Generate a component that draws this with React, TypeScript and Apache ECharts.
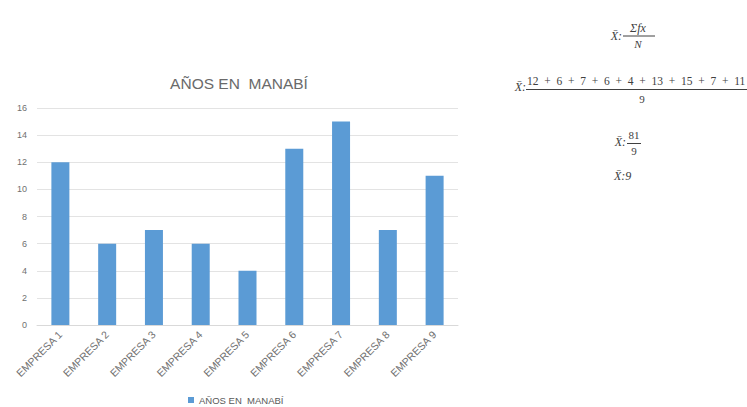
import React, { useEffect, useRef } from "react";
import * as echarts from "echarts";

const categories = [
  "EMPRESA 1",
  "EMPRESA 2",
  "EMPRESA 3",
  "EMPRESA 4",
  "EMPRESA 5",
  "EMPRESA 6",
  "EMPRESA 7",
  "EMPRESA 8",
  "EMPRESA 9",
];
const values = [12, 6, 7, 6, 4, 13, 15, 7, 11];
const seriesName = "AÑOS EN  MANABÍ";
const titleText = "AÑOS EN  MANABÍ";
const yMin = 0;
const yMax = 16;
const yInterval = 2;

const XBAR = "X\u0304:";
const NB = "\u00A0";

export default function App() {
  const ref = useRef<HTMLDivElement>(null);

  useEffect(() => {
    if (!ref.current) return;
    const chart = echarts.init(ref.current, null, { renderer: "svg" });
    const sum = values.reduce((a, b) => a + b, 0);
    const n = values.length;
    const mean = sum / n;
    const numer = values.join(NB + NB + "+" + NB + NB);
    const fText = "#404040";
    const fFont = "Liberation Serif";

    chart.setOption({
      animation: false,
      backgroundColor: "#ffffff",
      textStyle: { fontFamily: "Liberation Sans" },
      grid: { left: 37, right: 289, top: 108, height: 217 },
      legend: {
        data: [seriesName],
        left: 188,
        top: 395,
        padding: 0,
        icon: "rect",
        itemWidth: 6,
        itemHeight: 6,
        itemGap: 5,
        textStyle: { fontSize: 9.5, color: "#595959", fontFamily: "Liberation Sans" },
      },
      xAxis: {
        type: "category",
        data: categories,
        axisLine: { show: true, lineStyle: { color: "#d9d9d9", width: 1 } },
        axisTick: { show: false },
        axisLabel: {
          interval: 0,
          rotate: 45,
          fontSize: 10.5,
          color: "#707070",
          margin: 8,
        },
      },
      yAxis: {
        type: "value",
        min: yMin,
        max: yMax,
        interval: yInterval,
        axisLine: { show: false },
        axisTick: { show: false },
        splitLine: { lineStyle: { color: "#e3e3e3", width: 1 } },
        axisLabel: { fontSize: 9, color: "#707070", margin: 10 },
      },
      series: [
        {
          name: seriesName,
          type: "bar",
          data: values,
          barWidth: 18,
          itemStyle: { color: "#5b9bd5" },
        },
      ],
      graphic: [
        {
          type: "text",
          x: 239,
          y: 83,
          style: {
            text: titleText,
            fontSize: 15.5,
            fontFamily: "Liberation Sans",
            fill: "#6a6a6a",
            align: "center",
            verticalAlign: "middle",
          },
        },
        // Formula 1
        {
          type: "text",
          x: 622,
          y: 36,
          style: { text: XBAR, fontSize: 12, fontStyle: "italic", fontFamily: fFont, fill: fText, align: "right", verticalAlign: "middle" },
        },
        {
          type: "text",
          x: 638,
          y: 28,
          style: { text: "\u03A3" + "fx", fontSize: 12, fontStyle: "italic", fontFamily: fFont, fill: fText, align: "center", verticalAlign: "middle" },
        },
        { type: "line", shape: { x1: 623, y1: 36, x2: 655, y2: 36 }, style: { stroke: fText, lineWidth: 1 } },
        {
          type: "text",
          x: 638,
          y: 43.5,
          style: { text: "N", fontSize: 11, fontStyle: "italic", fontFamily: fFont, fill: fText, align: "center", verticalAlign: "middle" },
        },
        // Formula 2
        {
          type: "text",
          x: 526,
          y: 87,
          style: { text: XBAR, fontSize: 12, fontStyle: "italic", fontFamily: fFont, fill: fText, align: "right", verticalAlign: "middle" },
        },
        {
          type: "text",
          x: 527,
          y: 81,
          style: { text: numer, fontSize: 11.5, fontFamily: fFont, fill: fText, align: "left", verticalAlign: "middle" },
        },
        { type: "line", shape: { x1: 526, y1: 89.5, x2: 747, y2: 89.5 }, style: { stroke: fText, lineWidth: 1 } },
        {
          type: "text",
          x: 642,
          y: 99,
          style: { text: String(n), fontSize: 11, fontFamily: fFont, fill: fText, align: "center", verticalAlign: "middle" },
        },
        // Formula 3
        {
          type: "text",
          x: 626,
          y: 142,
          style: { text: XBAR, fontSize: 12, fontStyle: "italic", fontFamily: fFont, fill: fText, align: "right", verticalAlign: "middle" },
        },
        {
          type: "text",
          x: 634,
          y: 135,
          style: { text: String(sum), fontSize: 11, fontFamily: fFont, fill: fText, align: "center", verticalAlign: "middle" },
        },
        { type: "line", shape: { x1: 627, y1: 143.5, x2: 641, y2: 143.5 }, style: { stroke: fText, lineWidth: 1 } },
        {
          type: "text",
          x: 634,
          y: 150.5,
          style: { text: String(n), fontSize: 11, fontFamily: fFont, fill: fText, align: "center", verticalAlign: "middle" },
        },
        // Formula 4
        {
          type: "text",
          x: 614,
          y: 176,
          style: { text: XBAR + String(mean), fontSize: 12, fontStyle: "italic", fontFamily: fFont, fill: fText, align: "left", verticalAlign: "middle" },
        },
      ],
    });

    return () => chart.dispose();
  }, []);

  return (
    <div
      ref={ref}
      style={{ position: "fixed", left: 0, top: 0, width: 747, height: 407 }}
    />
  );
}
